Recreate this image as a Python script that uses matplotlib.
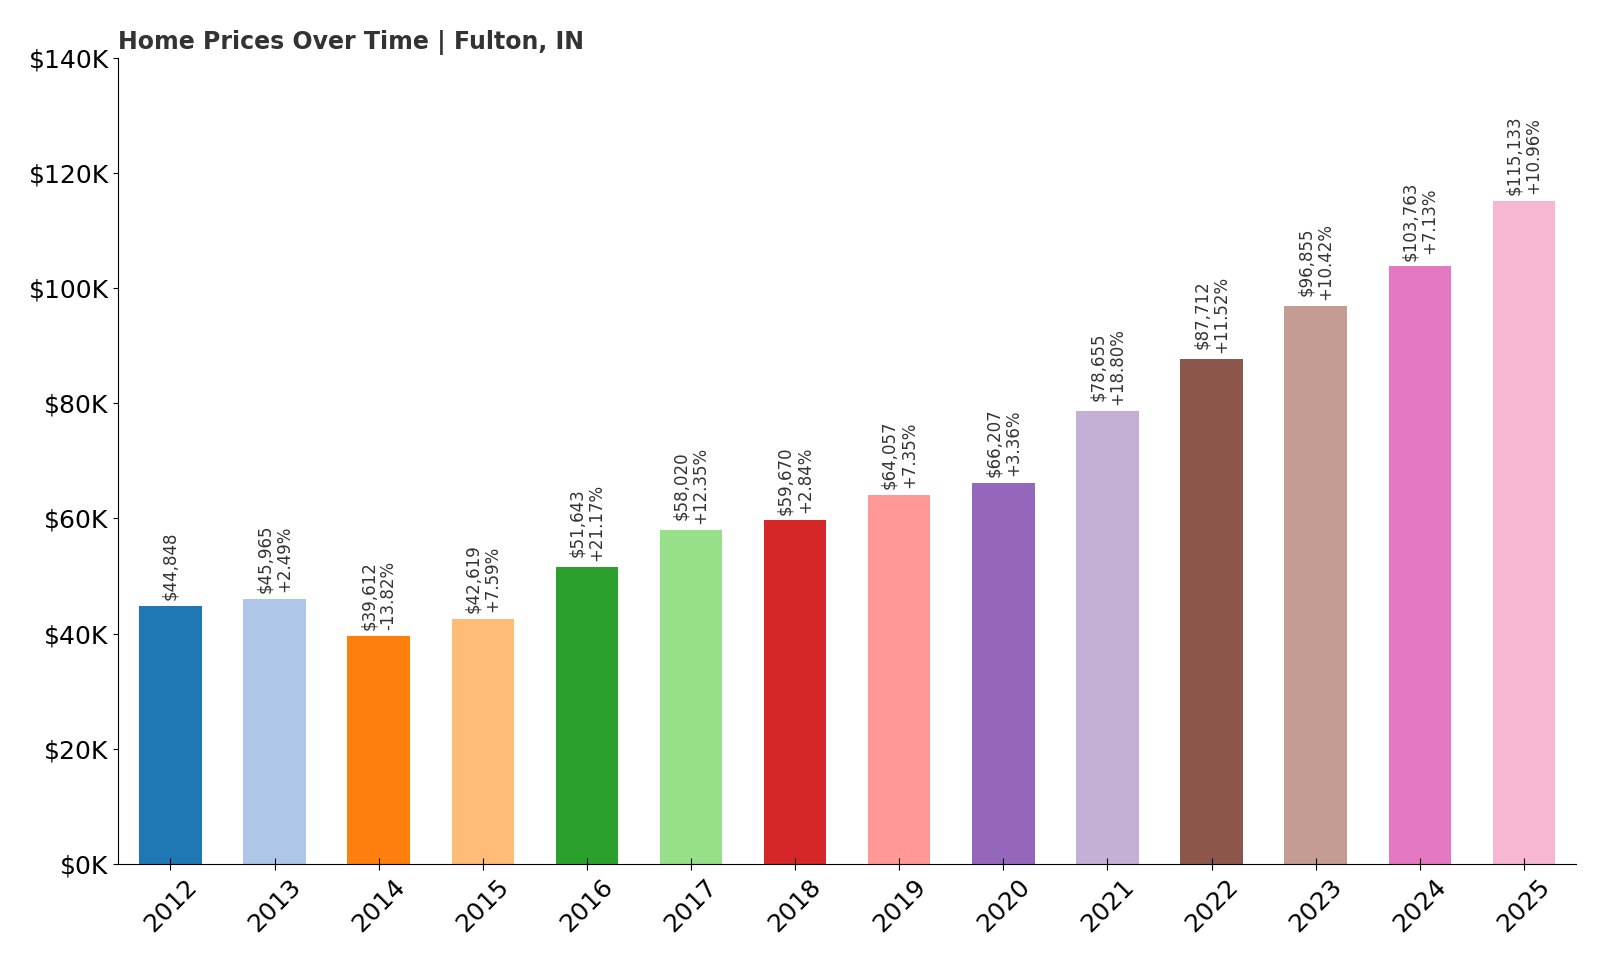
import matplotlib.pyplot as plt
import matplotlib.ticker as mticker

years = [2012, 2013, 2014, 2015, 2016, 2017, 2018, 2019, 2020, 2021, 2022, 2023, 2024, 2025]
prices = [44848, 45965, 39612, 42619, 51643, 58020, 59670, 64057, 66207, 78655, 87712, 96855, 103763, 115133]
changes = [None, '+2.49%', '-13.82%', '+7.59%', '+21.17%', '+12.35%', '+2.84%', '+7.35%',
           '+3.36%', '+18.80%', '+11.52%', '+10.42%', '+7.13%', '+10.96%']

colors = plt.get_cmap('tab20').colors[:len(years)]

fig, ax = plt.subplots(figsize=(16, 9.6), dpi=100)
fig.subplots_adjust(left=0.074, right=0.985, top=0.94, bottom=0.1)

x = list(range(len(years)))
ax.bar(x, prices, width=0.6, color=colors)

for i, p in enumerate(prices):
    label = f'${p:,}' if changes[i] is None else f'${p:,}\n{changes[i]}'
    ax.text(i, p + 1000, label, rotation=90, ha='center', va='bottom',
            fontsize=12, color='#333333', linespacing=1.1)

ax.set_xticks(x)
ax.set_xticklabels([str(y) for y in years], rotation=45, fontsize=18)
ax.set_xlim(-0.5, len(years) - 0.5)
ax.set_ylim(0, 140000)
ax.yaxis.set_major_locator(mticker.MultipleLocator(20000))
ax.yaxis.set_major_formatter(mticker.FuncFormatter(lambda v, _: f'${v/1000:.0f}K'))
ax.tick_params(axis='y', labelsize=18)
ax.tick_params(axis='x', direction='inout', length=8)
ax.spines['top'].set_visible(False)
ax.spines['right'].set_visible(False)
ax.set_title('Home Prices Over Time | Fulton, IN', loc='left', fontsize=17,
             fontweight='bold', color='#333333')

fig.savefig('out.png')
